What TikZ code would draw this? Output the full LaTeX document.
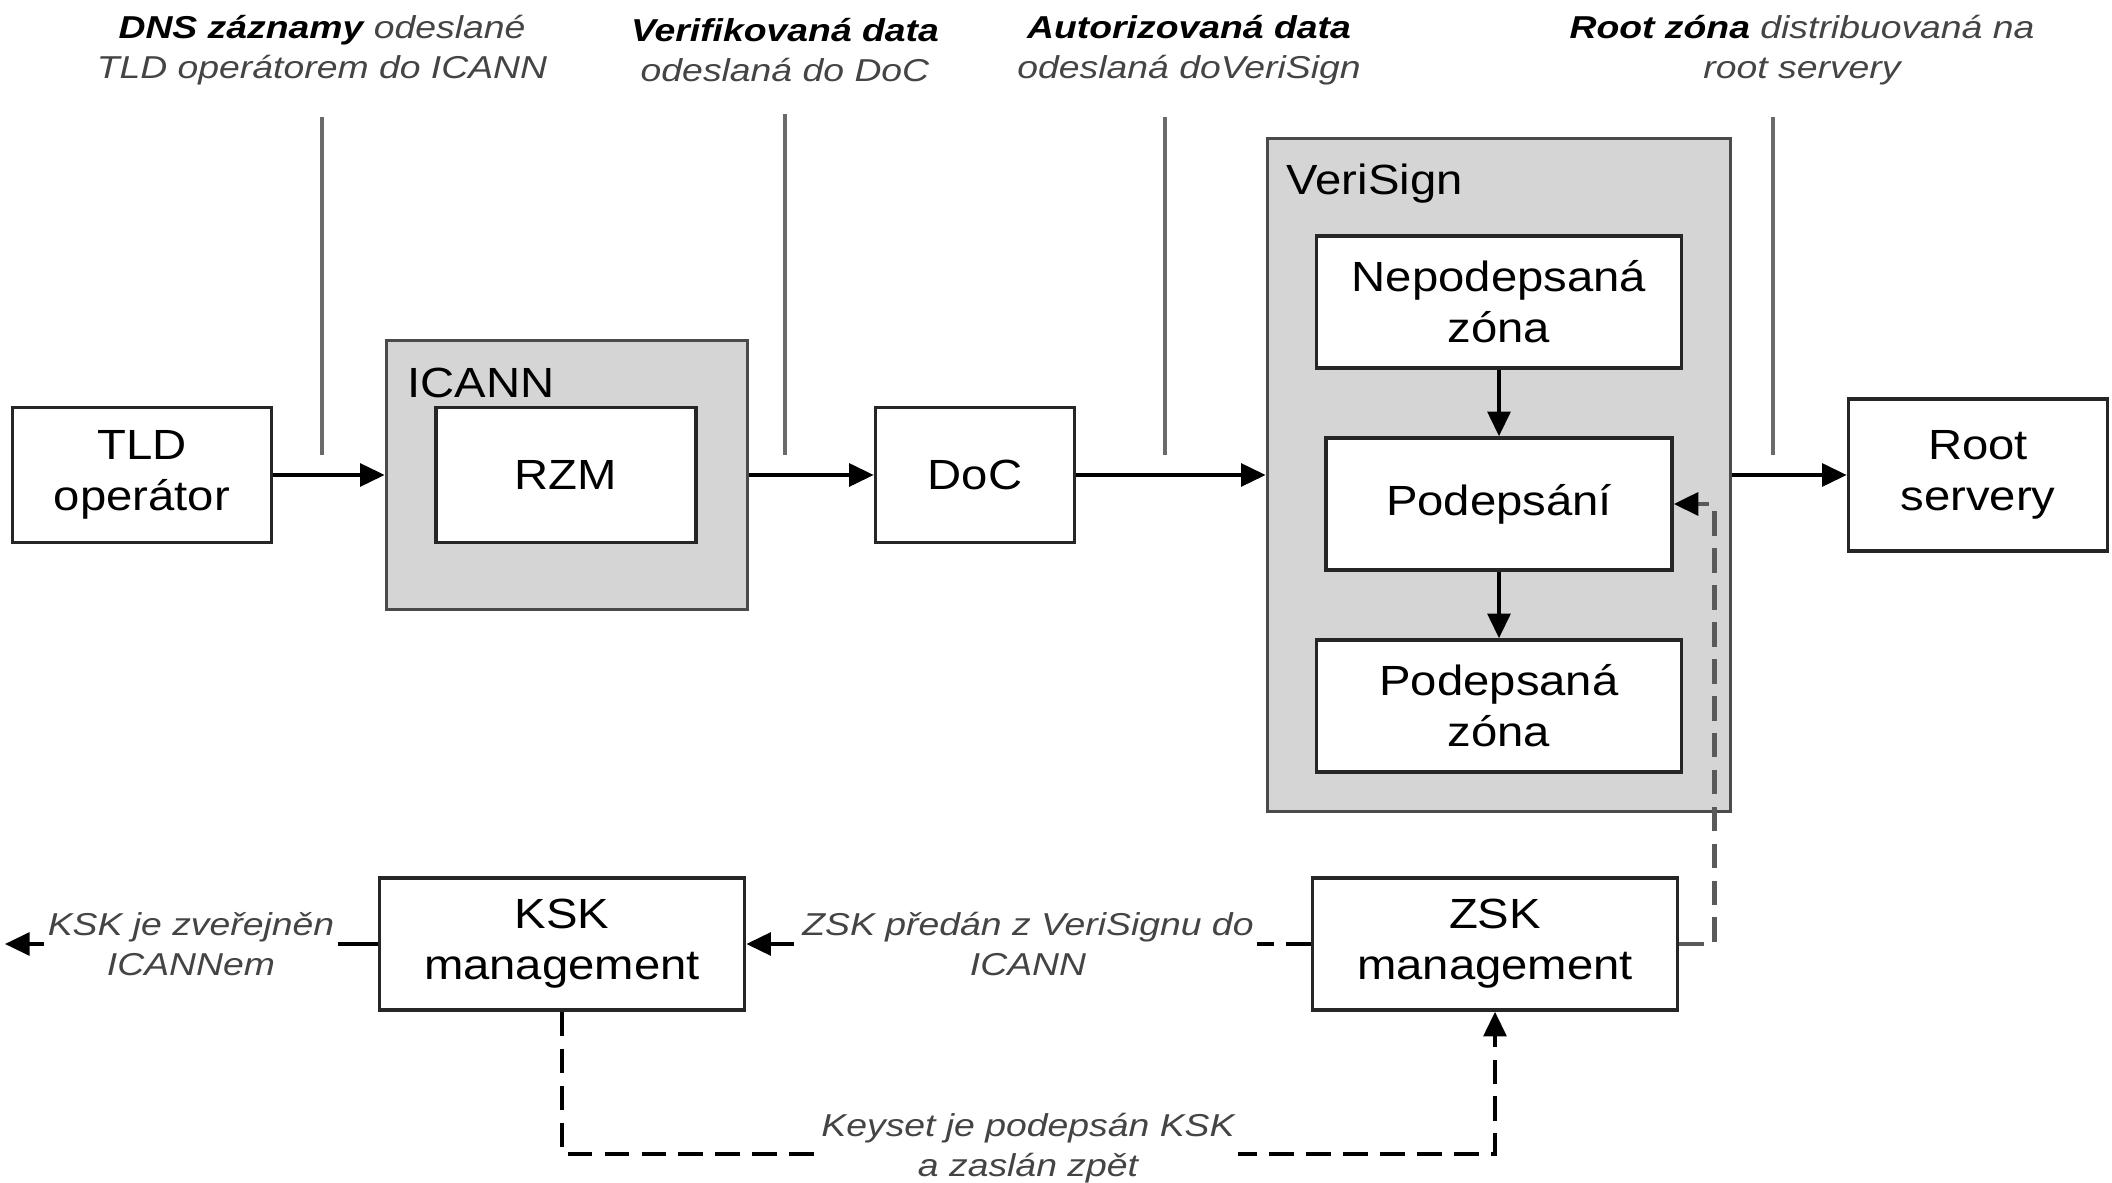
\documentclass[tikz,border=0pt]{standalone}
\usepackage{fontspec}
\setmainfont{Liberation Sans}[FakeStretch=1.12]
\newfontfamily\notefont{Liberation Sans}[FakeStretch=1.18]
\usetikzlibrary{arrows.meta,positioning}
\definecolor{panel}{HTML}{D5D5D5}
\definecolor{rim}{HTML}{4A4A4A}
\definecolor{callgray}{HTML}{6A6A6A}
\definecolor{notegray}{HTML}{444444}
\definecolor{keygray}{HTML}{5A5A5A}

\begin{document}
\begin{tikzpicture}[x=0.01cm,y=-0.01cm,
  unit/.style={rectangle,draw=black!85,line width=1pt,fill=white,minimum width=3.65cm,minimum height=1.32cm,align=center,font=\fontsize{12}{14.5}\selectfont,inner sep=2pt},
  group/.style={rectangle,draw=rim,line width=1pt,fill=panel},
  grouptitle/.style={anchor=west,font=\fontsize{12}{14.5}\selectfont,inner sep=0pt},
  note/.style={align=center,font=\notefont\fontsize{9}{11.4}\selectfont\itshape,text=notegray,inner sep=1pt},
  flow/.style={-{Triangle[length=7pt,width=6.5pt,color=black]},line width=1pt,black},
  callout/.style={callgray,line width=1.1pt,shorten <=8pt},
  keydash/.style={dash pattern=on 7pt off 3.5pt}]
\useasboundingbox (0,0) rectangle (2112,1183);
% upper row
\node[unit,minimum width=2.59cm,minimum height=1.35cm] (tld) at (142,475) {TLD\\operátor};
\node[group,minimum width=3.61cm,minimum height=2.69cm] (icann) at (567,475) {};
\node[grouptitle] (icanntitle) at (407,383) {ICANN};
\node[unit,minimum width=2.60cm,minimum height=1.35cm] (rzm) at (566,475) {RZM};
\node[unit,minimum width=1.99cm,minimum height=1.35cm] (doc) at (975,475) {DoC};
\node[group,minimum width=4.63cm,minimum height=6.73cm] (verisign) at (1499,475) {};
\node[grouptitle] (vstitle) at (1286,184) {VeriSign};
\node[unit] (unsigned) at (1499,302) {Nepodepsaná\\zóna};
\node[unit,minimum width=3.46cm] (signing) at (1499,504) {Podepsání};
\node[unit] (signed) at (1499,706) {Podepsaná\\zóna};
\node[unit,minimum width=2.59cm,minimum height=1.52cm] (root) at (1978,475) {Root\\servery};
\draw[flow] (tld) -- (icann);
\draw[flow] (icann) -- (doc);
\draw[flow] (doc) -- (verisign);
\draw[flow] (verisign) -- (root);
\draw[flow] (unsigned) -- (signing);
\draw[flow] (signing) -- (signed);
% notes above the main line
\node[note] (dnsnote) at (322,50) {{\bfseries\color{black}DNS záznamy} odeslané\\TLD operátorem do ICANN};
\node[note] (verifnote) at (785,50) {{\bfseries\color{black}Verifikovaná data}\\odeslaná do DoC};
\node[note] (authnote) at (1189,50) {{\bfseries\color{black}Autorizovaná data}\\odeslaná doVeriSign};
\node[note] (rootnote) at (1802,50) {{\bfseries\color{black}Root zóna} distribuovaná na\\root servery};
\coordinate (dnstip) at (322,455);
\coordinate (veriftip) at (785,455);
\coordinate (authtip) at (1165,455);
\coordinate (roottip) at (1773,455);
\draw[callout] (dnsnote.south -| dnstip) -- (dnstip);
\draw[callout] (verifnote.south -| veriftip) -- (veriftip);
\draw[callout] (authnote.south -| authtip) -- (authtip);
\draw[callout] (rootnote.south -| roottip) -- (roottip);
% key management
\node[unit] (ksk) at (562,944) {KSK\\management};
\node[unit] (zsk) at (1495,944) {ZSK\\management};
\coordinate (publish) at (5,944);
\draw[flow] (ksk) -- (publish);
\node[note,fill=white] (publishnote) at (191,944) {KSK je zveřejněn\\ICANNem};
\draw[flow,keydash,draw=keygray,line width=1.3pt] (zsk.east) -- ++(35,0) |- (signing.east);
\draw[flow,keydash] (zsk) -- (ksk);
\node[note,fill=white] (zsknote) at (1028,944) {ZSK předán z VeriSignu do\\ICANN};
\draw[flow,keydash] (ksk.south) -- ++(0,142) -| (zsk.south);
\node[note,fill=white] (keysetnote) at (1028,1148) {Keyset je podepsán KSK\\a zaslán zpět};
\end{tikzpicture}
\end{document}
